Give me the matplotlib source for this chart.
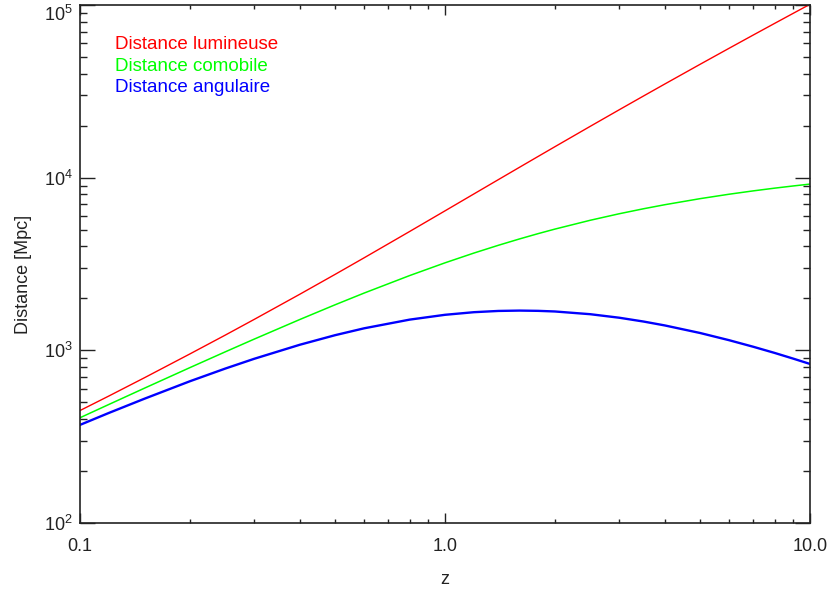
import numpy as np
import matplotlib
matplotlib.use("Agg")
import matplotlib.pyplot as plt
from matplotlib.ticker import LogLocator, FixedLocator, NullFormatter

# redshift and distances in Mpc
z = [0.1, 0.12, 0.15, 0.2, 0.25, 0.3, 0.4, 0.5, 0.6, 0.8, 1.0, 1.2, 1.4, 1.6,
     1.8, 2.0, 2.5, 3.0, 3.5, 4.0, 5.0, 6.0, 7.0, 8.0, 9.0, 10.0]
d_lum = [448, 544, 693, 953, 1225, 1510, 2112, 2754, 3432, 4878, 6424, 8050,
         9740, 11485, 13277, 15108, 19830, 24717, 29733, 34856, 45356, 56125,
         67104, 78253, 89545, 100958]
d_com = [407, 486, 603, 794, 980, 1161, 1508, 1836, 2145, 2710, 3212, 3659,
         4058, 4417, 4742, 5036, 5666, 6179, 6607, 6971, 7559, 8018, 8388,
         8695, 8954, 9178]
d_ang = [370, 434, 524, 662, 784, 893, 1077, 1224, 1341, 1506, 1606, 1663,
         1691, 1699, 1693, 1679, 1619, 1545, 1468, 1394, 1260, 1145, 1048,
         966, 895, 834]

names = ["Distance lumineuse", "Distance comobile", "Distance angulaire"]
colors = ["#ff0000", "#00ff00", "#0000ff"]

plt.rcParams["font.family"] = ["Liberation Sans", "DejaVu Sans"]
plt.rcParams["mathtext.fontset"] = "custom"
plt.rcParams["mathtext.rm"] = "Liberation Sans"
plt.rcParams["mathtext.it"] = "Liberation Sans"

fig = plt.figure(figsize=(8.3, 5.91), dpi=100)
ax = fig.add_axes([80 / 830, 1 - 523 / 591, 730 / 830, 518 / 591])

ax.plot(z, d_lum, color=colors[0], lw=1.0)
ax.plot(z, d_com, color=colors[1], lw=1.1)
ax.plot(z, d_ang, color=colors[2], lw=1.7)

ax.set_xscale("log")
ax.set_yscale("log")
ax.set_xlim(0.1, 10)
ax.set_ylim(100, 1e5)

ax.xaxis.set_major_locator(FixedLocator([0.1, 1, 10]))
ax.set_xticklabels(["0.1", "1.0", "10.0"])
ax.xaxis.set_minor_locator(LogLocator(base=10, subs=np.arange(2, 10)))
ax.xaxis.set_minor_formatter(NullFormatter())
ax.yaxis.set_major_locator(FixedLocator([1e2, 1e3, 1e4, 1e5]))
ax.set_yticklabels(["10$^{2}$", "10$^{3}$", "10$^{4}$", "10$^{5}$"])
ax.yaxis.set_minor_locator(LogLocator(base=10, subs=np.arange(2, 10)))
ax.yaxis.set_minor_formatter(NullFormatter())
# top label sits below its tick so it stays inside the figure
ax.get_yticklabels()[-1].set_va("top")

ax.tick_params(which="both", direction="in", top=True, right=True,
               color="#222222", width=1.0, labelsize=13, labelcolor="#222222")
ax.tick_params(axis="x", which="major", length=7.2, pad=11)
ax.tick_params(axis="x", which="minor", length=3.2)
ax.tick_params(axis="y", which="major", length=10.5, pad=5)
ax.tick_params(axis="y", which="minor", length=5)
for s in ax.spines.values():
    s.set_color("#222222")
    s.set_linewidth(1.2)

ax.set_xlabel("z", fontsize=13, color="#222222", labelpad=11)
ax.set_ylabel("Distance [Mpc]", fontsize=13, color="#222222")
ax.yaxis.set_label_coords(-0.066, 0.48)

for i in range(3):
    ax.text(0.048, 0.923 - i * 0.041, names[i], color=colors[i], fontsize=13.5,
            transform=ax.transAxes, va="center", ha="left")

fig.savefig("out.png")
